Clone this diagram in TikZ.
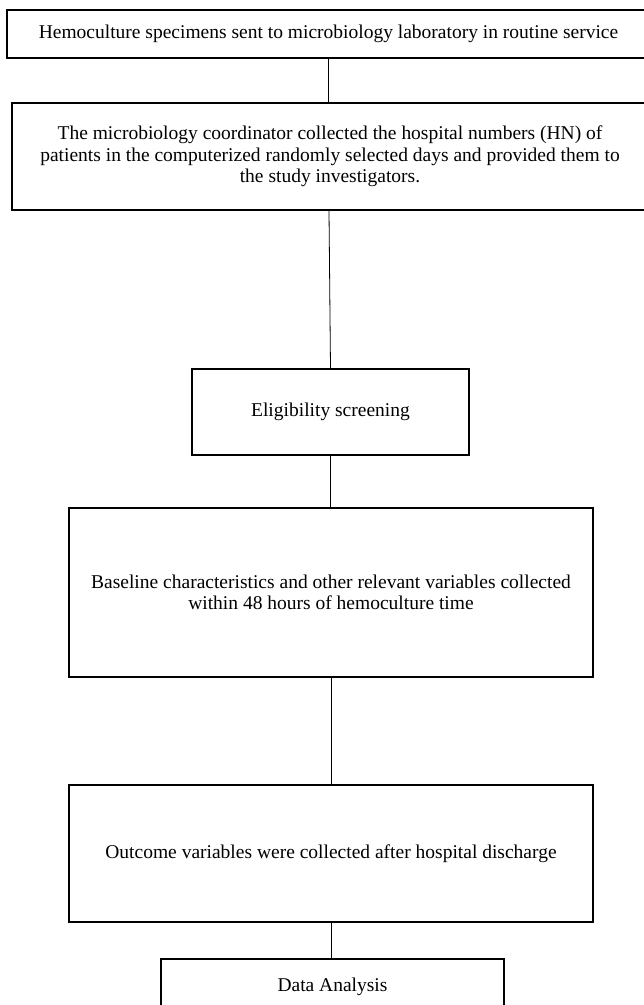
\documentclass[tikz,border=0pt]{standalone}
\usepackage{fontspec}
\setmainfont{Liberation Serif}
\begin{document}
\begin{tikzpicture}[x=1pt,y=-1pt,
  box/.style={draw, line width=1.6pt, inner sep=0pt, align=center,
    font=\fontsize{19.5}{21.5}\selectfont},
  link/.style={line width=0.8pt}]
\path[use as bounding box, clip] (0,0) rectangle (644,1005);
\fill[white] (0,0) rectangle (644,1005);
\node[box, minimum width=643pt, minimum height=48pt] (b1) at (328.5,34)
  {Hemoculture specimens sent to microbiology laboratory in routine service};
\node[box, minimum width=636pt, minimum height=107pt] (b2) at (330,156.5)
  {The microbiology coordinator collected the hospital numbers (HN) of\\
   patients in the computerized randomly selected days and provided them to\\
   the study investigators.};
\node[box, minimum width=277pt, minimum height=86pt] (b3) at (330.5,412)
  {Eligibility screening};
\node[box, minimum width=524pt, minimum height=169pt] (b4) at (331,592.5)
  {Baseline characteristics and other relevant variables collected\\
   within 48 hours of hemoculture time};
\node[box, minimum width=524pt, minimum height=137pt] (b5) at (331,853.5)
  {Outcome variables were collected after hospital discharge};
\node[box, minimum width=343pt, minimum height=56pt] (b6) at (332.5,987)
  {Data Analysis};
\draw[link] (b1.south) -- (b1.south |- b2.north);
\draw[link] ([xshift=-1pt]b2.south) -- (b3.north);
\draw[link] (b3.south) -- (b3.south |- b4.north);
\draw[link] (b4.south) -- (b5.north);
\draw[link] (b5.south) -- (b5.south |- b6.north);
\end{tikzpicture}
\end{document}
